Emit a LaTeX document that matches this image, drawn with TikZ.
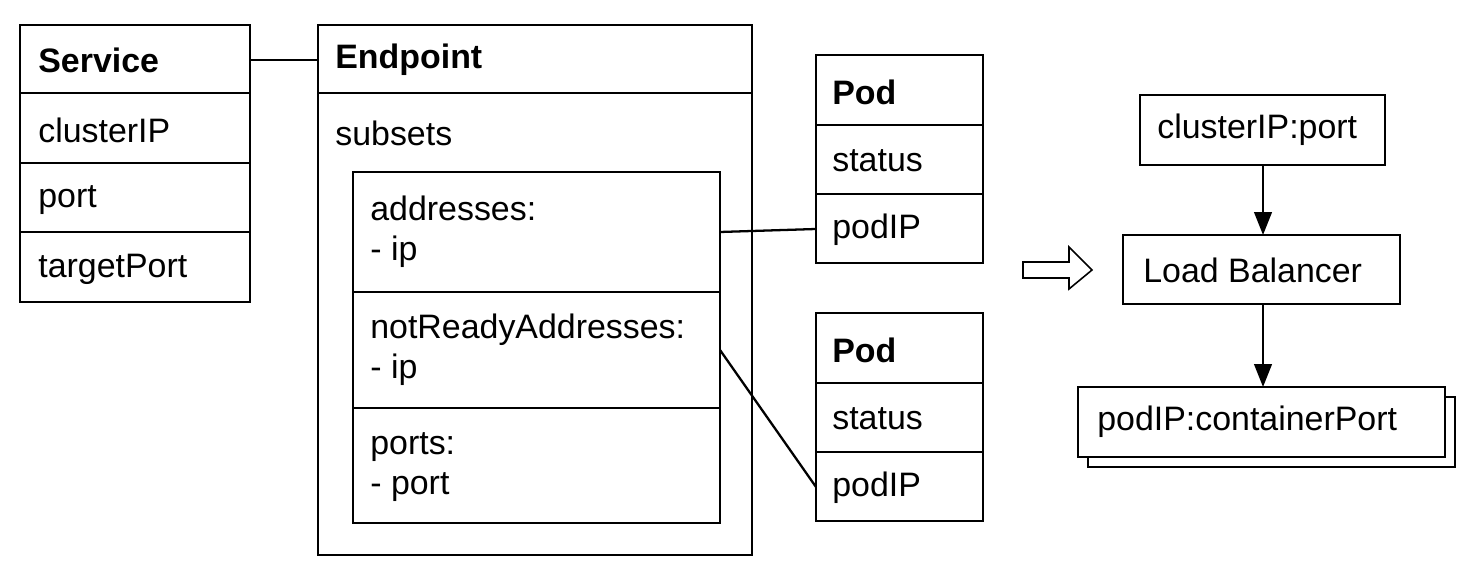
\documentclass[tikz,border=0pt]{standalone}
\usepackage{fontspec}
\setmainfont{Liberation Sans}
\usetikzlibrary{arrows.meta}
\begin{document}
\begin{tikzpicture}[x=0.02cm,y=-0.02cm,
  fnt/.style={font=\fontsize{19.3}{23}\selectfont},
  box/.style={draw,line width=0.9pt,fill=white},
  lbl/.style={anchor=west,fnt,inner sep=0pt},
  bl/.style={anchor=west,font=\fontsize{19.3}{23}\selectfont\bfseries,inner sep=0pt},
  con/.style={line width=1.3pt},
  arr/.style={line width=1.3pt,-{Triangle[length=13pt,width=10pt]}}]
\useasboundingbox (0,0) rectangle (1470,570);
% Service
\draw[box] (20,25) rectangle (250,302);
\foreach \y in {93,163,232} \draw[line width=0.9pt] (20,\y) -- (250,\y);
\node[bl] (svc) at (38,60) {Service};
\node[lbl] at (38,130) {clusterIP};
\node[lbl] at (38,200) {port};
\node[lbl] at (38,269) {targetPort};
\coordinate (svcR) at (250,60);
% Endpoint
\draw[box] (318,25) rectangle (752,555);
\draw[line width=0.9pt] (318,93) -- (752,93);
\coordinate (epL) at (318,60);
\node[bl] at (335,60) {Endpoint};
\node[lbl] at (335,133) {subsets};
\draw[box] (353,172) rectangle (720,523);
\draw[line width=0.9pt] (353,292) -- (720,292) (353,408) -- (720,408);
\node[lbl,align=left] at (370,232) {addresses:\\- ip};
\node[lbl,align=left] at (370,350) {notReadyAddresses:\\- ip};
\node[lbl,align=left] at (370,467) {ports:\\- port};
\coordinate (addrR) at (720,232);
\coordinate (nrR) at (720,350);
% Pods
\foreach \t/\n in {55/1,313/2}{
  \draw[box] (816,\t) rectangle (983,\t+208);
  \draw[line width=0.9pt] (816,\t+70) -- (983,\t+70) (816,\t+139) -- (983,\t+139);
  \node[bl] at (832,\t+37) {Pod};
  \node[lbl] at (832,\t+106) {status};
  \node[lbl] (podip\n) at (832,\t+175) {podIP};
  \coordinate (pod\n L) at (816,\t+174);
}
\draw[con] (svcR) -- (epL);
\draw[con] (addrR) -- (pod1L);
\draw[con] (nrR) -- (pod2L);
% hollow arrow
\draw[line width=0.9pt,fill=white] (1023,262) -- (1069,262) -- (1069,247) -- (1092,270)
  -- (1069,289) -- (1069,278) -- (1023,278) -- cycle;
% right side
\draw[box] (1140,95) rectangle (1385,165);
\node[lbl] (cip) at (1157,130) {clusterIP:port};
\draw[box] (1123,235) rectangle (1400,304);
\node[lbl] (lb) at (1143,270) {Load Balancer};
\draw[box] (1088,397) rectangle (1455,467);
\draw[box] (1078,387) rectangle (1445,457);
\node[lbl] (pc) at (1097,422) {podIP:containerPort};
\coordinate (a1) at (1263,165);
\coordinate (a2) at (1263,235);
\coordinate (a3) at (1263,304);
\coordinate (a4) at (1263,387);
\draw[arr] (a1) -- (a2);
\draw[arr] (a3) -- (a4);
\end{tikzpicture}
\end{document}
